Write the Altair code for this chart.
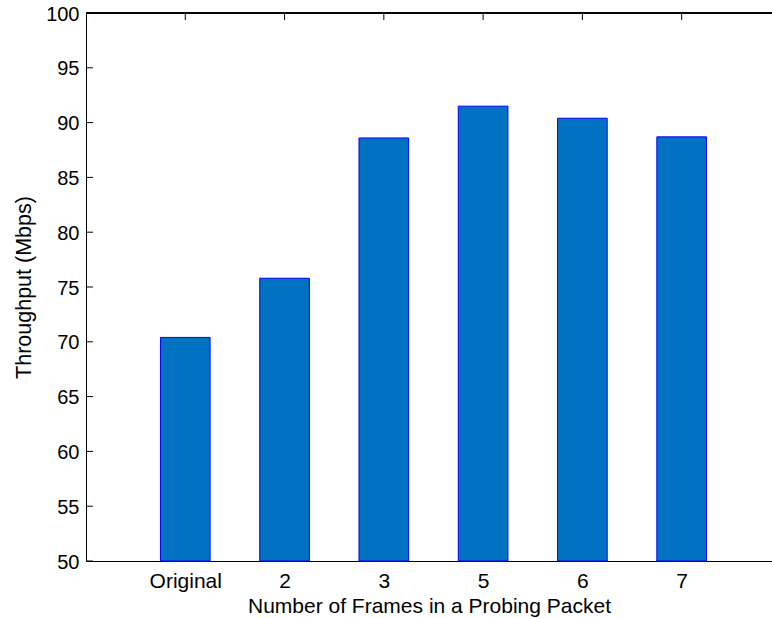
import json
import altair as alt
import pandas as pd

# Throughput per probing-packet configuration
categories = ["Original", "2", "3", "5", "6", "7"]
positions = [1, 2, 3, 4, 5, 6]
throughput = [70.4, 75.8, 88.6, 91.5, 90.4, 88.7]
y_tick_values = [50, 55, 60, 65, 70, 75, 80, 85, 90, 95, 100]

W, H = 686, 548
X_MAX = 6.91          # right end of the visible x range
BAR_HALF = 0.25       # half bar width in category units
TICK = 7              # inward tick length in px
FONT = "Liberation Sans"

bars_df = pd.DataFrame({"pos": positions, "label": categories, "value": throughput})
ticks_df = pd.DataFrame({"t": y_tick_values})
pos_df = pd.DataFrame({"pos": positions})

x_scale = alt.Scale(domain=[0, X_MAX], nice=False, zero=False)
y_scale = alt.Scale(domain=[50, 100], nice=False, zero=False)

label_expr = json.dumps(categories) + "[datum.value - 1]"

bars = (
    alt.Chart(bars_df)
    .transform_calculate(x0=f"datum.pos - {BAR_HALF}", x1=f"datum.pos + {BAR_HALF}")
    .mark_bar(fill="#0072C1", stroke="#0000FF", strokeWidth=1)
    .encode(
        x=alt.X(
            "x0:Q",
            scale=x_scale,
            axis=alt.Axis(
                values=positions,
                labelExpr=label_expr,
                ticks=False,
                grid=False,
                domain=True,
                domainColor="black",
                domainWidth=1,
                labelFont=FONT,
                labelFontSize=21,
                labelColor="black",
                labelBaseline="alphabetic",
                labelPadding=26,
                labelFlush=False,
                title="Number of Frames in a Probing Packet",
                titleFont=FONT,
                titleFontSize=21,
                titleFontWeight="normal",
                titleColor="black",
                titleBaseline="alphabetic",
                titleY=51,
            ),
        ),
        x2="x1:Q",
        y=alt.Y(
            "value:Q",
            scale=y_scale,
            axis=alt.Axis(
                values=y_tick_values,
                ticks=False,
                grid=False,
                domain=True,
                domainColor="black",
                domainWidth=1,
                labelFont=FONT,
                labelFontSize=20,
                labelColor="black",
                labelPadding=7,
                labelBaseline="middle",
                labelOffset=1,
                labelFlush=False,
                title="Throughput (Mbps)",
                titleFont=FONT,
                titleFontSize=21.5,
                titleFontWeight="normal",
                titleColor="black",
                titleAngle=-90,
                titleBaseline="middle",
                titleAnchor="middle",
                titleX=-62,
                titleY=H / 2,
            ),
        ),
        y2=alt.datum(50),
    )
)

# inward ticks on the left edge
y_ticks = alt.Chart(ticks_df).mark_rule(color="black", strokeWidth=1).encode(
    y=alt.Y("t:Q", scale=y_scale, axis=None),
    x=alt.value(0),
    x2=alt.value(TICK),
)

# top frame line
top_line = alt.Chart(pos_df).mark_rule(color="black", strokeWidth=1).encode(
    y=alt.value(0),
    x=alt.value(0),
    x2=alt.value(W),
)

# inward ticks along the top frame
top_ticks = alt.Chart(pos_df).mark_rule(color="black", strokeWidth=1).encode(
    x=alt.X("pos:Q", scale=x_scale, axis=None),
    y=alt.value(0),
    y2=alt.value(TICK),
)

chart = (
    alt.layer(bars, y_ticks, top_line, top_ticks)
    .resolve_axis(x="independent", y="independent")
    .properties(
        width=W,
        height=H,
        autosize=alt.AutoSizeParams(type="none"),
        padding={"left": 86, "top": 13, "right": 0, "bottom": 57},
        background="white",
    )
    .configure_view(stroke=None)
)

chart.save("out.html", embed_options={"renderer": "svg", "actions": False})
